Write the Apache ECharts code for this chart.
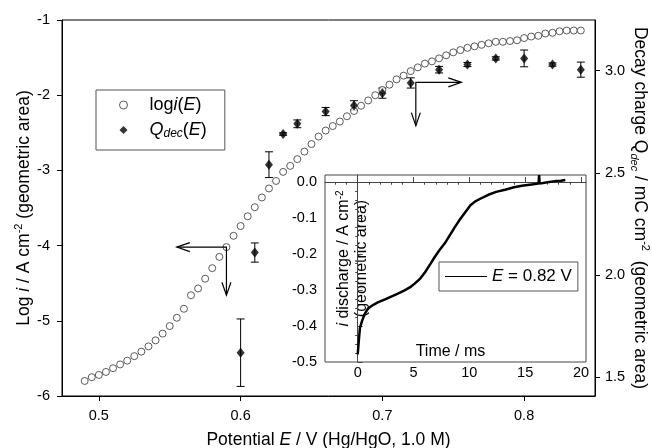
<!DOCTYPE html>
<html>
<head>
<meta charset="utf-8">
<script src="https://cdn.jsdelivr.net/npm/echarts@6/dist/echarts.min.js"></script>
<style>
  html, body { margin: 0; padding: 0; background: #fff; }
  #main { width: 652px; height: 448px; }
</style>
</head>
<body>
<div id="main"></div>
<script>
// log i(E), open circles, left axis
const potential = [
  0.490, 0.495, 0.500, 0.505, 0.510, 0.515, 0.520, 0.525, 0.530, 0.535,
  0.540, 0.545, 0.550, 0.555, 0.560, 0.565, 0.570, 0.575, 0.580, 0.585,
  0.590, 0.595, 0.600, 0.605, 0.610, 0.615, 0.620, 0.625, 0.630, 0.635,
  0.640, 0.645, 0.650, 0.655, 0.660, 0.665, 0.670, 0.675, 0.680, 0.685,
  0.690, 0.695, 0.700, 0.705, 0.710, 0.715, 0.720, 0.725, 0.730, 0.735,
  0.740, 0.745, 0.750, 0.755, 0.760, 0.765, 0.770, 0.775, 0.780, 0.785,
  0.790, 0.795, 0.800, 0.805, 0.810, 0.815, 0.820, 0.825, 0.830, 0.835,
  0.840
];
const logCurrent = [
  -5.80, -5.75, -5.72, -5.68, -5.63, -5.58, -5.53, -5.47, -5.41, -5.34,
  -5.26, -5.17, -5.07, -4.96, -4.84, -4.66, -4.57, -4.44, -4.30, -4.15,
  -4.02, -3.87, -3.74, -3.61, -3.49, -3.36, -3.24, -3.14, -3.02, -2.94,
  -2.85, -2.75, -2.65, -2.55, -2.47, -2.41, -2.35, -2.28, -2.21, -2.14,
  -2.07, -2.00, -1.93, -1.86, -1.79, -1.74, -1.68, -1.63, -1.58, -1.55,
  -1.51, -1.47, -1.43, -1.40, -1.37, -1.35, -1.33, -1.31, -1.29, -1.29,
  -1.28, -1.27, -1.24, -1.22, -1.21, -1.18, -1.17, -1.15, -1.14, -1.14,
  -1.14
];

// Q_dec(E), filled diamonds with error bars, right axis
const qdecPotential = [0.60, 0.61, 0.62, 0.63, 0.64, 0.66, 0.68, 0.70, 0.72, 0.74, 0.76, 0.78, 0.80, 0.82, 0.84];
const qdecCharge = [1.62, 2.11, 2.54, 2.69, 2.74, 2.80, 2.83, 2.89, 2.94, 3.005, 3.03, 3.06, 3.06, 3.03, 3.005];
const qdecError = [0.165, 0.047, 0.063, 0.006, 0.019, 0.02, 0.023, 0.025, 0.025, 0.016, 0.01, 0.008, 0.041, 0.008, 0.037];

// inset: discharge transient at E = 0.82 V (one visible noise spike kept)
const insetTime = [
  0.0, 0.1, 0.2, 0.4, 0.6, 0.9, 1.3, 1.8, 2.5, 3.0,
  3.6, 4.2, 4.7, 5.1, 5.6, 6.0, 6.5, 6.9, 7.3, 7.8,
  8.3, 8.7, 9.1, 9.6, 10.1, 10.5, 11.1, 11.7, 12.4, 13.2,
  14.0, 14.7, 15.4, 16.2, 16.25, 16.3, 17.0, 17.7, 18.2, 18.6
];
const insetCurrent = [
  -0.479, -0.440, -0.405, -0.385, -0.368, -0.352, -0.343, -0.334, -0.325, -0.318,
  -0.310, -0.301, -0.292, -0.282, -0.268, -0.252, -0.228, -0.208, -0.190, -0.170,
  -0.145, -0.125, -0.106, -0.085, -0.064, -0.054, -0.044, -0.035, -0.027, -0.021,
  -0.014, -0.010, -0.007, -0.004, 0.020, -0.004, 0.000, 0.003, 0.004, 0.006
];

// tick labels
const potentialTicks = [0.5, 0.6, 0.7, 0.8];
const chargeTicks = [1.5, 2.0, 2.5, 3.0];
const timeTicks = [0, 5, 10, 15, 20];
const timeMinorTicks = [-2, -1, 1, 2, 3, 4, 6, 7, 8, 9, 11, 12, 13, 14, 16, 17, 18, 19];
const dischargeTicks = [-0.5, -0.4, -0.3, -0.2, -0.1, 0.0];
const dischargeMinorTicks = [-0.475, -0.45, -0.425, -0.375, -0.35, -0.325, -0.275, -0.25, -0.225,
  -0.175, -0.15, -0.125, -0.075, -0.05, -0.025];

// arrows: [corner E, corner y, end of horizontal arm E, end of vertical arm y]
const arrowLogI = [0.59, -4.02, 0.555, -4.66];
const arrowQdec = [0.7236, 2.943, 0.7557, 2.731];

const FONT = 'Liberation Sans, Arial, sans-serif';
const rich = {
  n: { fontFamily: FONT, fontSize: 17.5, lineHeight: 22, color: '#000' },
  it: { fontFamily: FONT, fontSize: 17.5, lineHeight: 22, fontStyle: 'italic', color: '#000' },
  sup: { fontFamily: FONT, fontSize: 11, lineHeight: 11, verticalAlign: 'top', color: '#000' },
  sub: { fontFamily: FONT, fontSize: 11, lineHeight: 9, fontStyle: 'italic', verticalAlign: 'bottom', color: '#000' }
};
const insetRich = {
  n: { fontFamily: FONT, fontSize: 16, lineHeight: 18, color: '#000' },
  it: { fontFamily: FONT, fontSize: 16, lineHeight: 18, fontStyle: 'italic', color: '#000' },
  sup: { fontFamily: FONT, fontSize: 10, lineHeight: 10, verticalAlign: 'top', color: '#000' }
};
const legendRich = {
  sp: { width: 17, lineHeight: 20 },
  n: { fontFamily: FONT, fontSize: 18, lineHeight: 20, color: '#000' },
  it: { fontFamily: FONT, fontSize: 18, lineHeight: 20, fontStyle: 'italic', color: '#000' },
  sub: { fontFamily: FONT, fontSize: 12, lineHeight: 8, fontStyle: 'italic', verticalAlign: 'bottom', color: '#000' }
};

const tickLabel = { fontFamily: FONT, fontSize: 14.5, color: '#000' };
const blackLine = { lineStyle: { color: '#000', width: 1 } };

function errorBarItem(params, api) {
  const e = api.value(0), q = api.value(1), d = api.value(2);
  const top = api.coord([e, q + d]);
  const bot = api.coord([e, q - d]);
  const cap = 4;
  const style = { stroke: '#000', lineWidth: 1 };
  return {
    type: 'group',
    children: [
      { type: 'line', shape: { x1: top[0], y1: top[1], x2: bot[0], y2: bot[1] }, style },
      { type: 'line', shape: { x1: top[0] - cap, y1: top[1], x2: top[0] + cap, y2: top[1] }, style },
      { type: 'line', shape: { x1: bot[0] - cap, y1: bot[1], x2: bot[0] + cap, y2: bot[1] }, style }
    ]
  };
}

function arrowItem(params, api) {
  const c = api.coord([api.value(0), api.value(1)]);
  const h = api.coord([api.value(2), api.value(1)]);
  const v = api.coord([api.value(0), api.value(3)]);
  const dir = Math.sign(h[0] - c[0]);
  const len = 13, half = 4.5;
  const style = { stroke: '#000', lineWidth: 1.2, fill: null };
  return {
    type: 'group',
    children: [
      { type: 'polyline', shape: { points: [h, c, v] }, style },
      { type: 'polyline', shape: { points: [[h[0] - dir * len, h[1] - half], h, [h[0] - dir * len, h[1] + half]] }, style },
      { type: 'polyline', shape: { points: [[v[0] - half, v[1] - len], v, [v[0] + half, v[1] - len]] }, style }
    ]
  };
}

const chart = echarts.init(document.getElementById('main'), null, { renderer: 'canvas' });

const option = {
  animation: false,
  backgroundColor: '#fff',
  grid: [
    { left: 62, right: 57, top: 20, bottom: 52, outerBoundsMode: 'none', containLabel: false,
      show: true, borderColor: '#000', borderWidth: 1, backgroundColor: 'transparent' },
    { left: 325, top: 175, width: 261, height: 187, outerBoundsMode: 'none', containLabel: false,
      show: true, borderColor: '#444', borderWidth: 1, backgroundColor: '#fff' }
  ],
  legend: [
    {
      orient: 'vertical',
      left: 96, top: 90,
      padding: [6, 18, 10, 23],
      itemGap: 7,
      itemWidth: 8, itemHeight: 8,
      borderColor: '#555', borderWidth: 1,
      data: [
        { name: 'logi', icon: 'circle', itemStyle: { color: '#fff', borderColor: '#333', borderWidth: 1 } },
        { name: 'qdec', icon: 'diamond' }
      ],
      formatter: name => name === 'logi'
        ? '{sp| }{n|log}{it|i}{n|(}{it|E}{n|)}'
        : '{sp| }{it|Q}{sub|dec}{n|(}{it|E}{n|)}',
      textStyle: { rich: legendRich }
    },
    {
      left: 439, top: 262,
      padding: [6, 6, 6, 6],
      itemWidth: 42, itemHeight: 1,
      icon: 'rect',
      borderColor: '#555', borderWidth: 1,
      data: ['inset'],
      formatter: () => '{it|E}{n| = 0.82 V}',
      textStyle: { rich: { n: { fontFamily: FONT, fontSize: 17, lineHeight: 19, color: '#000' }, it: { fontFamily: FONT, fontSize: 17, lineHeight: 19, fontStyle: 'italic', color: '#000' } } }
    }
  ],
  xAxis: [
    {
      type: 'value', gridIndex: 0, min: 0.474, max: 0.85,
      axisLine: blackLine,
      axisTick: { show: true, length: 5, customValues: potentialTicks, lineStyle: { color: '#000' } },
      axisLabel: { customValues: potentialTicks, margin: 12, ...tickLabel, formatter: v => v.toFixed(1) },
      splitLine: { show: false },
      name: '{n|Potential }{it|E}{n| / V (Hg/HgO, 1.0 M)}',
      nameLocation: 'middle', nameGap: 33, nameMoveOverlap: false,
      nameTextStyle: { rich }
    },
    {
      type: 'value', gridIndex: 1, min: -2.93, max: 20.45,
      axisLine: { lineStyle: { color: '#444', width: 1 } },
      axisTick: { show: true, inside: true, length: 5, customValues: timeTicks, lineStyle: { color: '#444' } },
      axisLabel: { customValues: timeTicks, margin: 3, ...tickLabel },
      splitLine: { show: false },
      name: 'Time / ms',
      nameLocation: 'middle', nameGap: -18, nameMoveOverlap: false,
      nameTextStyle: { fontFamily: FONT, fontSize: 16, color: '#000', padding: [0, 10, 0, 0] }
    },
    {
      type: 'value', gridIndex: 1, min: -2.93, max: 20.45,
      axisLine: { show: false },
      axisTick: { show: true, inside: true, length: 2.5, customValues: timeMinorTicks, lineStyle: { color: '#444' } },
      axisLabel: { show: false },
      splitLine: { show: false }
    }
  ],
  yAxis: [
    {
      type: 'value', gridIndex: 0, min: -6, max: -1, interval: 1,
      axisLine: { show: true, ...blackLine },
      axisTick: { show: true, length: 5, lineStyle: { color: '#000' } },
      axisLabel: { margin: 12, ...tickLabel },
      splitLine: { show: false },
      name: '{n|Log }{it|i}{n| / A cm}{sup|-2}{n| (geometric area)}',
      nameLocation: 'middle', nameGap: 27, nameMoveOverlap: false,
      nameTextStyle: { rich }
    },
    {
      type: 'value', gridIndex: 0, position: 'right', min: 1.408, max: 3.248,
      axisLine: { show: true, ...blackLine },
      axisTick: { show: true, length: 5, customValues: chargeTicks, lineStyle: { color: '#000' } },
      axisLabel: { customValues: chargeTicks, margin: 10, ...tickLabel, formatter: v => v.toFixed(1) },
      splitLine: { show: false },
      name: '{n|Decay charge Q}{sub|dec}{n| / mC cm}{sup|-2}{n|  (geometric area)}',
      nameLocation: 'middle', nameGap: 34, nameRotate: -90, nameMoveOverlap: false,
      nameTextStyle: { rich }
    },
    {
      type: 'value', gridIndex: 1, min: -0.5, max: 0.02,
      axisLine: { show: true, lineStyle: { color: '#444', width: 1 } },
      axisTick: { show: true, inside: true, length: 5, customValues: dischargeTicks, lineStyle: { color: '#444' } },
      axisLabel: { customValues: dischargeTicks, margin: 8, ...tickLabel, formatter: v => v.toFixed(1) },
      splitLine: { show: false },
      name: '{it|i}{n| discharge / A cm}{sup|-2}\n{n|(geometric area)}',
      nameLocation: 'middle', nameGap: -46, nameMoveOverlap: false,
      nameTextStyle: { rich: insetRich, align: 'center', padding: [0, 0, 0, 20] }
    },
    {
      type: 'value', gridIndex: 1, min: -0.5, max: 0.02,
      axisLine: { show: false },
      axisTick: { show: true, inside: true, length: 2.5, customValues: dischargeMinorTicks, lineStyle: { color: '#444' } },
      axisLabel: { show: false },
      splitLine: { show: false }
    }
  ],
  series: [
    {
      name: 'logi', type: 'scatter', xAxisIndex: 0, yAxisIndex: 0,
      symbol: 'circle', symbolSize: 7,
      itemStyle: { color: '#fff', borderColor: '#333', borderWidth: 1 },
      data: potential.map((e, i) => [e, logCurrent[i]]),
      z: 3
    },
    {
      name: 'qdecErr', type: 'custom', xAxisIndex: 0, yAxisIndex: 1,
      renderItem: errorBarItem,
      data: qdecPotential.map((e, i) => [e, qdecCharge[i], qdecError[i]]),
      z: 3
    },
    {
      name: 'qdec', type: 'scatter', xAxisIndex: 0, yAxisIndex: 1,
      symbol: 'diamond', symbolSize: [8, 10],
      itemStyle: { color: '#000' },
      data: qdecPotential.map((e, i) => [e, qdecCharge[i]]),
      z: 4
    },
    {
      name: 'arrowLeft', type: 'custom', xAxisIndex: 0, yAxisIndex: 0,
      renderItem: arrowItem, data: [arrowLogI], z: 5
    },
    {
      name: 'arrowRight', type: 'custom', xAxisIndex: 0, yAxisIndex: 1,
      renderItem: arrowItem, data: [arrowQdec], z: 5
    },
    {
      name: 'inset', type: 'line', xAxisIndex: 1, yAxisIndex: 2,
      symbol: 'none', showSymbol: false,
      lineStyle: { color: '#000', width: 2.5 },
      itemStyle: { color: '#000' },
      data: insetTime.map((t, i) => [t, insetCurrent[i]]),
      z: 6
    }
  ]
};

chart.setOption(option);
</script>
</body>
</html>
